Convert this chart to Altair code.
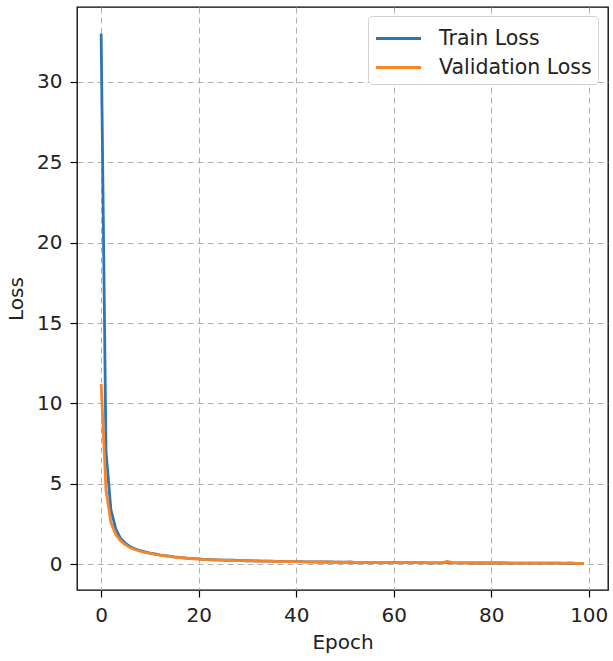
import altair as alt
import pandas as pd

epochs = list(range(100))

train_loss = [
    33.0, 7.0, 3.4, 2.2, 1.6, 1.3, 1.08, 0.95, 0.85, 0.77,
    0.70, 0.64, 0.58, 0.54, 0.50, 0.46, 0.43, 0.40, 0.37, 0.35,
    0.33, 0.31, 0.30, 0.28, 0.27, 0.26, 0.25, 0.25, 0.24, 0.23,
    0.22, 0.21, 0.21, 0.20, 0.19, 0.19, 0.18, 0.18, 0.17, 0.17,
    0.16, 0.16, 0.15, 0.15, 0.15, 0.14, 0.14, 0.14, 0.13, 0.13,
    0.13, 0.13, 0.12, 0.12, 0.12, 0.12, 0.11, 0.11, 0.11, 0.11,
    0.11, 0.10, 0.10, 0.10, 0.10, 0.10, 0.10, 0.09, 0.09, 0.09,
    0.10, 0.13, 0.10, 0.09, 0.09, 0.09, 0.08, 0.08, 0.08, 0.08,
    0.08, 0.08, 0.08, 0.08, 0.07, 0.07, 0.07, 0.07, 0.07, 0.07,
    0.07, 0.07, 0.07, 0.07, 0.07, 0.06, 0.07, 0.06, 0.06, 0.06,
]

val_loss = [
    11.2, 4.6, 2.6, 1.85, 1.45, 1.2, 1.02, 0.90, 0.81, 0.74,
    0.68, 0.62, 0.57, 0.53, 0.49, 0.45, 0.42, 0.39, 0.36, 0.34,
    0.32, 0.30, 0.29, 0.27, 0.27, 0.26, 0.26, 0.24, 0.23, 0.23,
    0.21, 0.21, 0.20, 0.19, 0.19, 0.18, 0.18, 0.17, 0.17, 0.16,
    0.16, 0.15, 0.15, 0.15, 0.14, 0.14, 0.14, 0.13, 0.13, 0.13,
    0.12, 0.14, 0.12, 0.12, 0.12, 0.11, 0.11, 0.11, 0.11, 0.11,
    0.10, 0.10, 0.10, 0.10, 0.11, 0.12, 0.10, 0.09, 0.09, 0.09,
    0.10, 0.18, 0.10, 0.09, 0.09, 0.09, 0.08, 0.08, 0.08, 0.08,
    0.08, 0.08, 0.08, 0.07, 0.07, 0.07, 0.07, 0.07, 0.07, 0.07,
    0.07, 0.07, 0.07, 0.07, 0.07, 0.07, 0.08, 0.07, 0.06, 0.06,
]

series_names = ["Train Loss", "Validation Loss"]
series_colors = ["#2f74b5", "#f5862a"]

x_ticks = [0, 20, 40, 60, 80, 100]
y_ticks = [0, 5, 10, 15, 20, 25, 30]

rows = []
for name, vals in zip(series_names, [train_loss, val_loss]):
    for e, v in zip(epochs, vals):
        rows.append({"Epoch": e, "Loss": v, "Series": name})
df = pd.DataFrame(rows)

FONT = "DejaVu Sans"

chart = (
    alt.Chart(df)
    .mark_line(strokeWidth=2.8)
    .encode(
        x=alt.X(
            "Epoch:Q",
            scale=alt.Scale(domain=[-4.95, 103.95], nice=False, zero=False),
            axis=alt.Axis(values=x_ticks, title="Epoch", format="d"),
        ),
        y=alt.Y(
            "Loss:Q",
            scale=alt.Scale(domain=[-1.6, 34.65], nice=False, zero=False),
            axis=alt.Axis(values=y_ticks, title="Loss", format="d"),
        ),
        color=alt.Color(
            "Series:N",
            scale=alt.Scale(domain=series_names, range=series_colors),
            legend=alt.Legend(
                title=None,
                orient="none",
                legendX=291,
                legendY=9,
                symbolType="M-1.5,0L1.5,0",
                symbolSize=900,
                symbolStrokeWidth=3,
                symbolOffset=8,
                labelFontSize=20.5,
                labelFont=FONT,
                labelColor="#222222",
                labelLimit=400,
                labelOffset=24,
                rowPadding=2,
                padding=6,
                strokeColor="#d0d0d0",
                fillColor="white",
                cornerRadius=4,
            ),
        ),
        order=alt.Order("Epoch:Q"),
    )
    .properties(
        width=531,
        height=583,
        autosize=alt.AutoSizeParams(type="none"),
        padding={"left": 77, "top": 7, "right": 5, "bottom": 71},
    )
    .configure_view(stroke="black", strokeWidth=1.3)
    .configure_axis(
        grid=True,
        gridColor="#b0b0b0",
        gridDash=[6, 4],
        gridWidth=1,
        domain=False,
        ticks=True,
        tickColor="black",
        tickSize=7,
        tickWidth=1.2,
        labelFont=FONT,
        labelFontSize=20,
        labelColor="#222222",
        labelPadding=8,
        titleFont=FONT,
        titleFontSize=20,
        titleFontWeight="normal",
        titleColor="#222222",
    )
    .configure_axisX(titlePadding=7)
    .configure_axisY(titlePadding=10)
)

chart.save("out.html", embed_options={"renderer": "svg", "actions": False})
